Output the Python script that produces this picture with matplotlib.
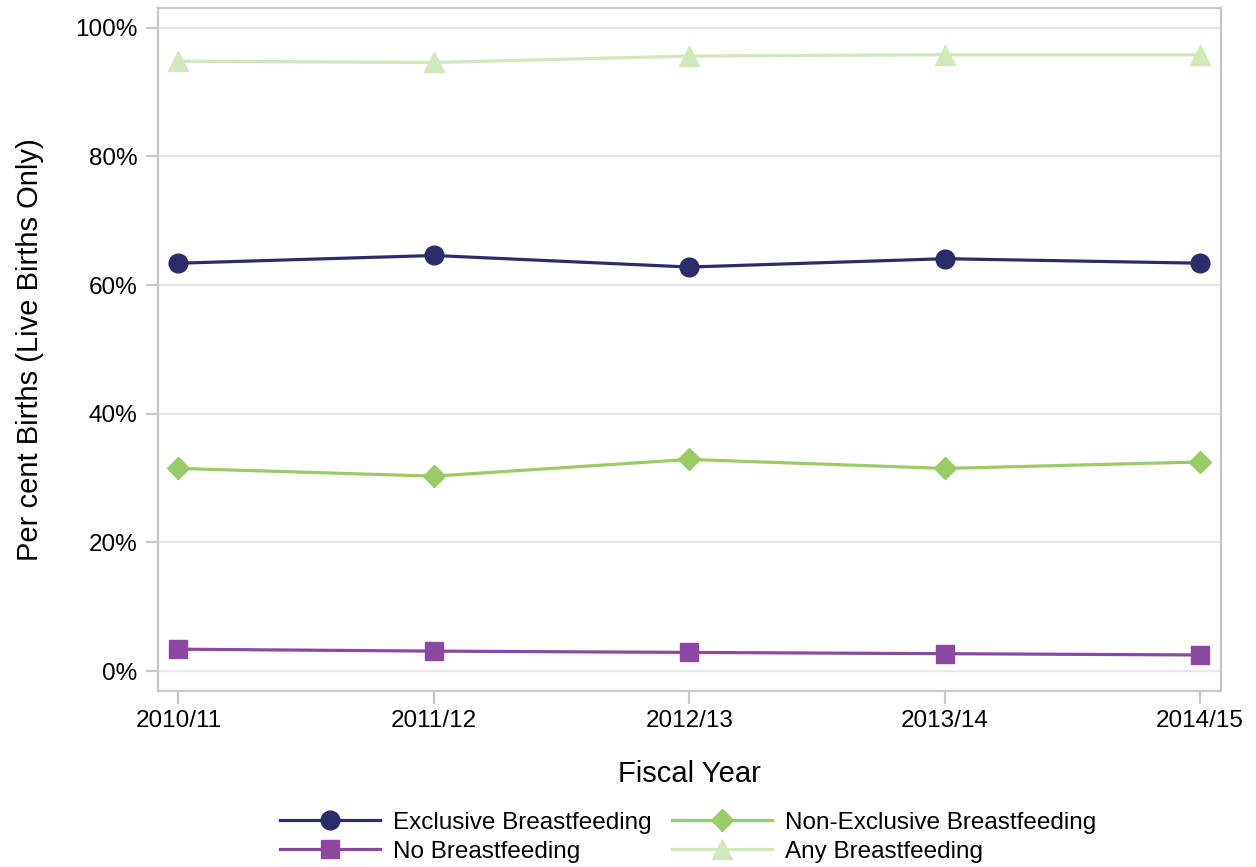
import matplotlib.pyplot as plt
import numpy as np

plt.rcParams['font.family'] = ['Liberation Sans', 'DejaVu Sans']

years = ['2010/11', '2011/12', '2012/13', '2013/14', '2014/15']
exclusive = [63.4, 64.6, 62.8, 64.1, 63.4]
non_exclusive = [31.5, 30.3, 32.9, 31.5, 32.5]
no_bf = [3.4, 3.1, 2.9, 2.7, 2.5]
any_bf = [94.8, 94.6, 95.6, 95.8, 95.8]

grey = '#C8C8C8'

fig = plt.figure(figsize=(12.56, 8.67), dpi=100)
ax = fig.add_axes([0.1258, 0.203, 0.846, 0.788])

x = np.arange(len(years))
ax.plot(x, exclusive, color='#2D2C6B', lw=2.3, marker='o', ms=13.5,
        label='Exclusive Breastfeeding', zorder=3)
ax.plot(x, no_bf, color='#8C47A0', lw=2.3, marker='s', ms=12.5,
        label='No Breastfeeding', zorder=3)
ax.plot(x, non_exclusive, color='#99CC66', lw=2.3, marker='D', ms=11,
        label='Non-Exclusive Breastfeeding', zorder=3)
ax.plot(x, any_bf, color='#D0E8BA', lw=2.3, marker='^', ms=14,
        label='Any Breastfeeding', zorder=3)

ax.set_xlim(-0.08, 4.08)
ax.set_ylim(-3.1, 103.1)
ax.set_xticks(x)
ax.set_xticklabels(years)
ax.set_yticks(range(0, 101, 20))
ax.set_yticklabels([f'{v}%' for v in range(0, 101, 20)])
ax.yaxis.grid(True, color='#E8E8E8', lw=1.6, zorder=0)
ax.set_axisbelow(True)

for s in ax.spines.values():
    s.set_color(grey)
    s.set_linewidth(1.6)
ax.tick_params(axis='both', colors=grey, length=9, width=1.6, labelsize=17.5,
               labelcolor='black')
ax.tick_params(axis='y', pad=6)
ax.tick_params(axis='x', pad=5)

ax.set_xlabel('Fiscal Year', fontsize=21, labelpad=20)
ax.set_ylabel('Per cent Births (Live Births Only)', fontsize=21, labelpad=22)

fig.legend(loc='upper center', bbox_to_anchor=(0.548, 0.064), ncol=2,
           frameon=False, fontsize=17.5, handlelength=4.1, columnspacing=0.85,
           handletextpad=0.55, labelspacing=0.3, borderpad=0, borderaxespad=0)

fig.savefig('out.png', dpi=100)
